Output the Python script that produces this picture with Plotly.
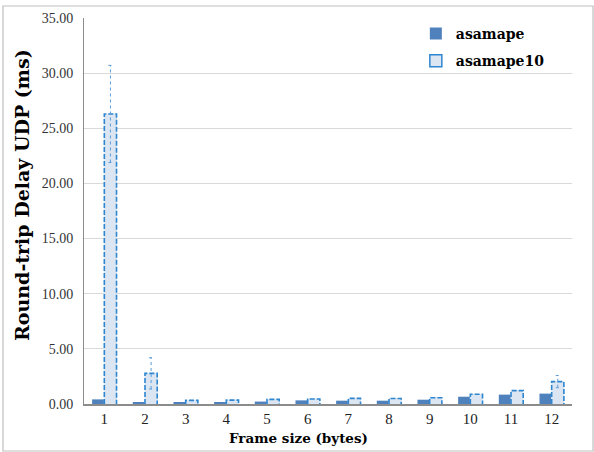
import plotly.graph_objects as go

# Frame sizes (categories) and measured round-trip delays (ms)
frame_sizes = [1, 2, 3, 4, 5, 6, 7, 8, 9, 10, 11, 12]
tick_labels = [str(v) for v in frame_sizes]
asamape = [0.42, 0.18, 0.15, 0.18, 0.22, 0.33, 0.30, 0.30, 0.39, 0.66, 0.85, 0.94]
asamape10 = [26.30, 2.78, 0.33, 0.35, 0.42, 0.45, 0.51, 0.50, 0.57, 0.88, 1.21, 2.03]
asamape10_err = [4.40, 1.42, 0.0, 0.0, 0.0, 0.0, 0.0, 0.0, 0.0, 0.0, 0.0, 0.55]
y_ticks = [0, 5, 10, 15, 20, 25, 30, 35]

BAR_W = 0.3
SOLID = "#4F81BD"
LIGHT = "#DCE6F2"
DASH = "#2E86D1"
SERIF = "Liberation Serif, DejaVu Serif, serif"
WIDE_SERIF = "DejaVu Serif, Liberation Serif, serif"

fig = go.Figure()

fig.add_trace(go.Bar(
    x=frame_sizes, y=asamape, width=BAR_W, offset=-BAR_W,
    marker=dict(color=SOLID, line=dict(width=0)),
    name="asamape", legendgroup="a",
))
fig.add_trace(go.Bar(
    x=frame_sizes, y=asamape10, width=BAR_W, offset=0,
    marker=dict(color=LIGHT, line=dict(color=LIGHT, width=1)),
    name="asamape10", showlegend=False, legendgroup="b",
))

# dashed outlines of the asamape10 bars
ox, oy = [], []
for xv, yv in zip(frame_sizes, asamape10):
    ox += [xv, xv, xv + BAR_W, xv + BAR_W, None]
    oy += [0, yv, yv, 0, None]
fig.add_trace(go.Scatter(
    x=ox, y=oy, mode="lines", showlegend=False, hoverinfo="skip",
    line=dict(color=DASH, width=1.6, dash="5px,2px"), legendgroup="b",
))

# dotted error bars with caps
ex, ey = [], []
cap = 0.05
for xv, yv, ev in zip(frame_sizes, asamape10, asamape10_err):
    if ev <= 0:
        continue
    c = xv + BAR_W / 2
    ex += [c, c, None, c - cap, c + cap, None, c - cap, c + cap, None]
    ey += [yv - ev, yv + ev, None, yv + ev, yv + ev, None, yv - ev, yv - ev, None]
fig.add_trace(go.Scatter(
    x=ex, y=ey, mode="lines", showlegend=False, hoverinfo="skip",
    line=dict(color="#5B9BD5", width=1, dash="dot"), legendgroup="b",
))

# legend entry for the dashed series
fig.add_trace(go.Bar(
    x=[None], y=[None], name="asamape10", legendgroup="b",
    marker=dict(color=LIGHT, line=dict(color=DASH, width=1.5)),
))

fig.update_layout(
    width=594, height=452,
    margin=dict(l=84, r=22, t=18, b=48),
    paper_bgcolor="white", plot_bgcolor="white",
    barmode="overlay",
    font=dict(family=SERIF, color="#000000"),
    legend=dict(
        x=0.68, y=1.0, xanchor="left", yanchor="top",
        font=dict(family=WIDE_SERIF, size=14, color="#000000", weight="bold"),
        bgcolor="rgba(0,0,0,0)", itemwidth=30,
        traceorder="grouped", tracegroupgap=6,
    ),
    xaxis=dict(
        range=[0.5, 12.5], tickmode="array", tickvals=frame_sizes,
        ticktext=tick_labels, showgrid=False, zeroline=False,
        showline=True, linecolor="#8C8C8C", linewidth=1.5, ticks="",
        tickfont=dict(family=SERIF, size=15, color="#222222"),
    ),
    yaxis=dict(
        range=[0, 35], tickvals=y_ticks, tickformat=".2f",
        showgrid=True, gridcolor="#D9D9D9", gridwidth=1.3,
        zeroline=False, showline=True, linecolor="#8C8C8C", linewidth=1,
        tickfont=dict(family=SERIF, size=14, color="#333333"),
        ticks="", ticklabelstandoff=7,
    ),
    annotations=[
        dict(text="<b>Frame size (bytes)</b>", xref="paper", yref="paper",
             x=(298 - 84) / 488, y=-(438 - 404) / 386,
             xanchor="center", yanchor="middle", showarrow=False,
             font=dict(family=WIDE_SERIF, size=13.5, color="#000000")),
        dict(text="<b>Round-trip Delay UDP (ms)</b>", xref="paper", yref="paper",
             x=(22 - 84) / 488, y=(404 - 195) / 386, textangle=-90,
             xanchor="center", yanchor="middle", showarrow=False,
             font=dict(family=WIDE_SERIF, size=19, color="#000000")),
    ],
    shapes=[dict(
        type="rect", xref="paper", yref="paper",
        x0=(3 - 84) / 488, x1=(593 - 84) / 488,
        y0=-(451 - 404) / 386, y1=1 + (18 - 6) / 386,
        line=dict(color="#BFBFBF", width=1.2), fillcolor="rgba(0,0,0,0)",
        layer="below",
    )],
)

fig.write_html("out.html")
